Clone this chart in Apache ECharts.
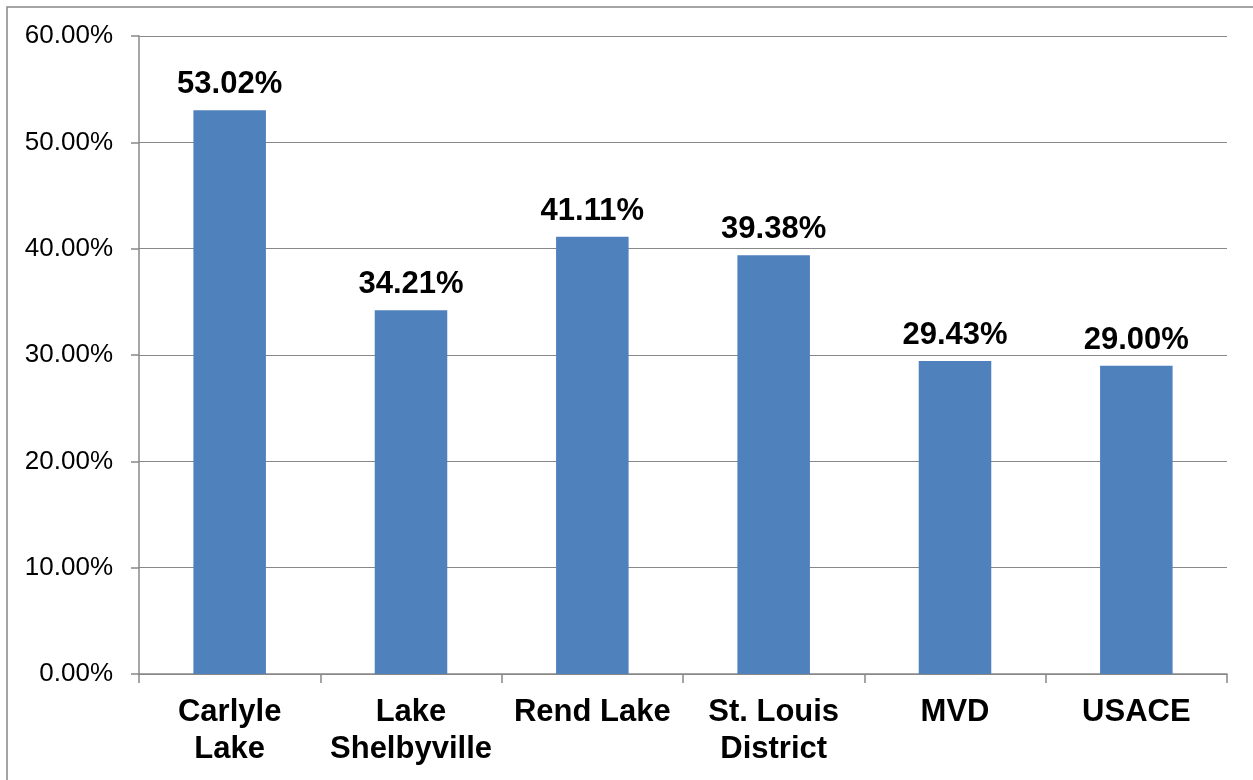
<!DOCTYPE html>
<html>
<head>
<meta charset="utf-8">
<script src="https://cdn.jsdelivr.net/npm/echarts@6/dist/echarts.min.js"></script>
<style>
  html, body { margin: 0; padding: 0; background: #fff; }
  #chart { width: 1253px; height: 780px; }
</style>
</head>
<body>
<div id="chart"></div>
<script>
// 类别与数值（百分比）
var categories = ['Carlyle\nLake', 'Lake\nShelbyville', 'Rend Lake', 'St. Louis\nDistrict', 'MVD', 'USACE'];
var percents = [53.02, 34.21, 41.11, 39.38, 29.43, 29.00];
var yMax = 60;
var yStep = 10;

var myChart = echarts.init(document.getElementById('chart'));

var option = {
  animation: false,
  textStyle: { fontFamily: 'Liberation Sans, Arial, sans-serif' },
  graphic: [
    {
      type: 'rect',
      shape: { x: 7, y: 7, width: 1300, height: 820 },
      style: { fill: 'none', stroke: '#888888', lineWidth: 1.5 }
    }
  ],
  grid: { left: 139, right: 26, top: 36, bottom: 106 },
  xAxis: {
    type: 'category',
    data: categories,
    axisLine: { lineStyle: { color: '#888888', width: 1.5 } },
    axisTick: { show: true, length: 9, lineStyle: { color: '#888888', width: 1.5 } },
    axisLabel: {
      color: '#000',
      fontSize: 31,
      fontWeight: 'bold',
      lineHeight: 37,
      margin: 20,
      interval: 0
    }
  },
  yAxis: {
    type: 'value',
    min: 0,
    max: yMax,
    interval: yStep,
    axisLine: { show: true, lineStyle: { color: '#888888', width: 1.5 } },
    axisTick: { show: true, length: 8, lineStyle: { color: '#888888', width: 1.5 } },
    splitLine: { lineStyle: { color: '#888888', width: 1.2 } },
    axisLabel: {
      color: '#000',
      fontSize: 26,
      margin: 26,
      formatter: function (v) { return v.toFixed(2) + '%'; }
    }
  },
  series: [
    {
      type: 'bar',
      data: percents,
      barWidth: '40%',
      itemStyle: { color: '#4F81BD' },
      label: {
        show: true,
        position: 'top',
        distance: 10,
        color: '#000',
        fontSize: 31,
        fontWeight: 'bold',
        formatter: function (p) { return p.value.toFixed(2) + '%'; }
      }
    }
  ]
};

myChart.setOption(option);
window.addEventListener('resize', function () { myChart.resize(); });
</script>
</body>
</html>
